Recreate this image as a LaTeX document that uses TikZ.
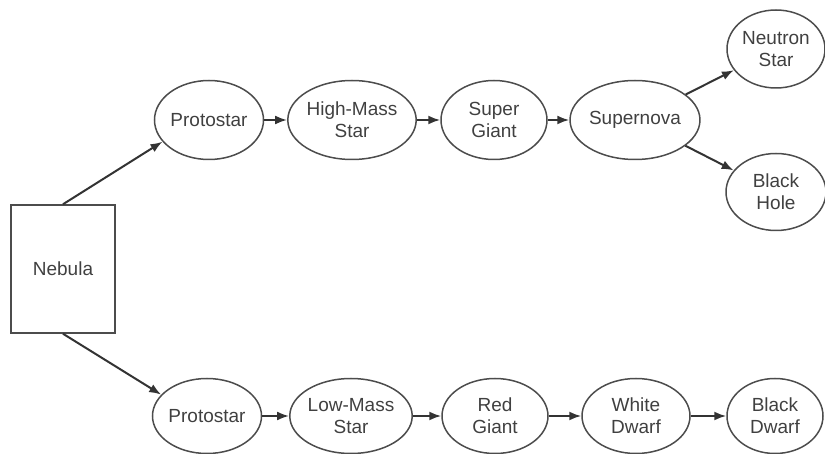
\documentclass[tikz,border=0pt]{standalone}
\usepackage{fontspec}
\setmainfont{Liberation Sans}
\usetikzlibrary{shapes.geometric, arrows.meta}
\begin{document}
\begin{tikzpicture}[x=1pt, y=-1pt, font=\fontsize{19}{22}\selectfont,
  stage/.style={draw=black!70, line width=1.5pt, ellipse, inner sep=0pt, minimum width=106pt, minimum height=79pt, align=center, text=black!75},
  cloud/.style={draw=black!70, line width=1.5pt, rectangle, inner sep=0pt, minimum width=104pt, minimum height=128pt, align=center, text=black!75},
  flow/.style={-{Latex[length=12pt, width=9pt]}, line width=2pt, black!80}]
  \useasboundingbox (0,0) rectangle (825,454);
  \node[cloud] (nebula) at (63,269) {Nebula};
  % high-mass branch
  \node[stage] (protoH) at (209,120) {Protostar};
  \node[stage, minimum width=109pt] (highmass) at (352,120) {High-Mass\\Star};
  \node[stage] (supergiant) at (494,120) {Super\\Giant};
  \node[stage, minimum width=104pt] (supernova) at (635,120) {Supernova};
  \node[stage, minimum width=98pt, minimum height=78pt] (neutron) at (776,49) {Neutron\\Star};
  \node[stage, minimum width=100pt, minimum height=77pt] (blackhole) at (776,192) {Black\\Hole};
  % low-mass branch
  \node[stage, minimum height=75pt] (protoL) at (207,416) {Protostar};
  \node[stage, minimum width=108pt, minimum height=75pt] (lowmass) at (351,416) {Low-Mass\\Star};
  \node[stage, minimum height=75pt] (redgiant) at (495,416) {Red\\Giant};
  \node[stage, minimum width=108pt, minimum height=75pt] (whitedwarf) at (636,416) {White\\Dwarf};
  \node[stage, minimum width=96pt, minimum height=75pt] (blackdwarf) at (775,416) {Black\\Dwarf};
  \draw[flow] (nebula.north) -- (protoH.205);
  \draw[flow] (protoH) -- (highmass);
  \draw[flow] (highmass) -- (supergiant);
  \draw[flow] (supergiant) -- (supernova);
  \draw[flow] (supernova) -- (neutron);
  \draw[flow] (supernova) -- (blackhole);
  \draw[flow] (nebula.south) -- (protoL.155);
  \draw[flow] (protoL) -- (lowmass);
  \draw[flow] (lowmass) -- (redgiant);
  \draw[flow] (redgiant) -- (whitedwarf);
  \draw[flow] (whitedwarf) -- (blackdwarf);
\end{tikzpicture}
\end{document}
